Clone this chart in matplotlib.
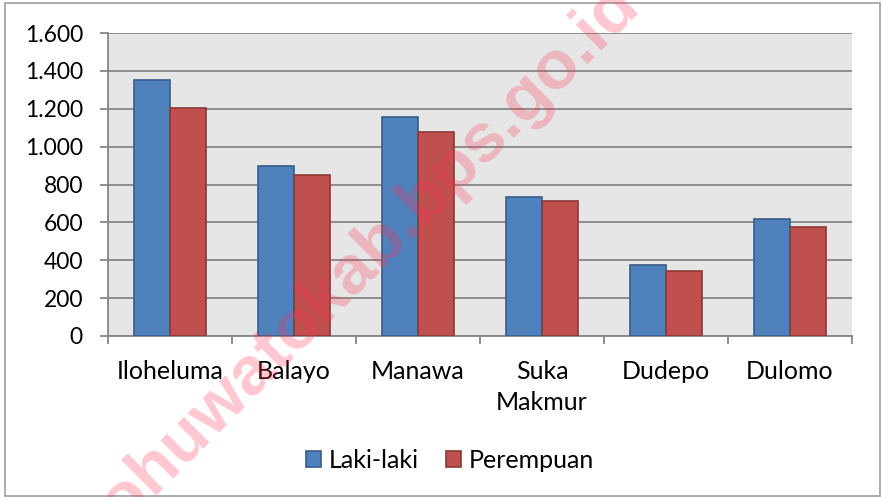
import numpy as np
import matplotlib.pyplot as plt
from matplotlib.patches import Rectangle

desa = ["Iloheluma", "Balayo", "Manawa", "Suka\nMakmur", "Dudepo", "Dulomo"]
laki = [1350, 898, 1155, 733, 375, 618]
perempuan = [1202, 851, 1078, 713, 342, 575]
yticks = [0, 200, 400, 600, 800, 1000, 1200, 1400, 1600]
ylabels = ["0", "200", "400", "600", "800", "1.000", "1.200", "1.400", "1.600"]

plt.rcParams['font.family'] = ['Lato', 'DejaVu Sans']

fig = plt.figure(figsize=(8.84, 4.97), dpi=100)
ax = fig.add_axes([108 / 884, 1 - 336 / 497, 744 / 884, 303 / 497])

x = np.arange(len(desa))
w = 0.288
ax.bar(x - w / 2, laki, w, color='#4F81BD', edgecolor='#385D8A', linewidth=1.2,
       label='Laki-laki', zorder=3)
ax.bar(x + w / 2, perempuan, w, color='#C0504D', edgecolor='#8C3836', linewidth=1.2,
       label='Perempuan', zorder=3)

ax.set_facecolor('#E6E6E6')
ax.set_xlim(-0.5, len(desa) - 0.5)
ax.set_ylim(0, 1600)
ax.set_yticks(yticks)
ax.set_yticklabels(ylabels, fontsize=16.5)
ax.yaxis.grid(True, color='#868686', linewidth=1.3, zorder=0)
ax.set_axisbelow(True)

ax.set_xticks(x)
ax.set_xticklabels(desa, fontsize=18, linespacing=1.45)
ax.tick_params(axis='x', length=0, pad=17)
ax.set_xticks(np.arange(-0.5, len(desa)), minor=True)
ax.tick_params(axis='x', which='minor', length=6, color='#868686', width=1.3)
ax.tick_params(axis='y', length=6, color='#868686', width=1.3, pad=12)

for s in ['top', 'right']:
    ax.spines[s].set_visible(False)
for s in ['left', 'bottom']:
    ax.spines[s].set_color('#868686')
    ax.spines[s].set_linewidth(1.3)

fig.legend(loc='center', bbox_to_anchor=(450 / 884, 1 - 460 / 497), ncol=2,
           frameon=False, fontsize=18, handlelength=0.6, handleheight=0.6,
           handletextpad=0.3, columnspacing=1.1)

# figure border
fig.patches.append(Rectangle((5 / 884, 1 / 497), 875 / 884, 493 / 497,
                             transform=fig.transFigure, fill=False,
                             edgecolor='#A6A6A6', linewidth=1.3))

# watermark
fig.text(354 / 884, 1 - 268 / 497, "pohuwatokab.bps.go.id", rotation=45,
         ha='center', va='center', fontsize=50, fontweight='bold',
         color='#FF3355', alpha=0.27, family=['Liberation Sans'], zorder=10)

fig.savefig('out.png', dpi=100)
